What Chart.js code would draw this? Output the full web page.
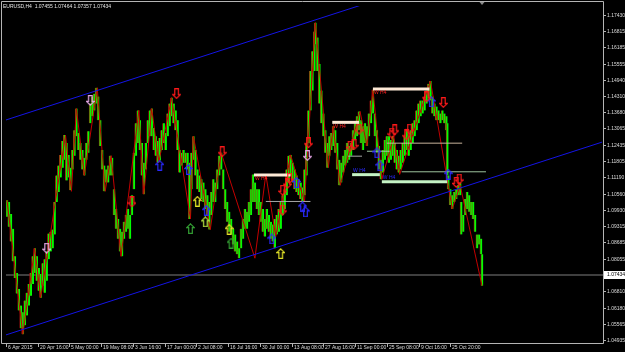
<!DOCTYPE html>
<html>
<head>
<meta charset="utf-8">
<script src="https://cdn.jsdelivr.net/npm/chart.js@4.4.0/dist/chart.umd.min.js"></script>
<style>
  html, body { margin: 0; padding: 0; background: #000; overflow: hidden; }
  canvas { display: block; }
</style>
</head>
<body>
<canvas id="chart" width="625" height="352"></canvas>
<script>
// ---- chart data (EURUSD H4) ----
const chartTitle = 'EURUSD,H4  1.07455 1.07464 1.07357 1.07434';
const lastPrice = 1.07434;

const priceTicks = [1.17430, 1.16815, 1.16185, 1.15555, 1.14940, 1.14310, 1.13680, 1.13065,
  1.12435, 1.11805, 1.11190, 1.10560, 1.09930, 1.09315, 1.08685, 1.08055, 1.06810,
  1.06180, 1.05565, 1.04935];

// bar numbers where the time labels sit
const timeTicks = [2, 66, 130, 194, 258, 322, 386, 450, 514, 578, 642, 706, 770, 834, 898];
const timeLabels = ['6 Apr 2015', '20 Apr 16:00', '5 May 00:00', '19 May 08:00', '3 Jun 16:00',
  '17 Jun 00:00', '2 Jul 08:00', '16 Jul 16:00', '30 Jul 00:00', '13 Aug 08:00',
  '27 Aug 16:00', '11 Sep 00:00', '25 Sep 08:00', '9 Oct 16:00', '25 Oct 20:00'];

const barNo = [4, 8, 12, 16, 20, 24, 28, 32, 36, 40, 44, 48, 52, 56, 60, 64, 68, 72, 76, 80,
  84, 88, 92, 96, 100, 104, 108, 112, 116, 120, 124, 128, 132, 136, 140, 144, 148, 152, 156, 160,
  164, 168, 172, 176, 180, 184, 188, 192, 196, 200, 204, 208, 212, 216, 220, 224, 228, 232, 236, 240,
  244, 248, 252, 256, 260, 264, 268, 272, 276, 280, 284, 288, 292, 296, 300, 304, 308, 312, 316, 320,
  324, 328, 332, 336, 340, 344, 348, 352, 356, 360, 364, 368, 372, 376, 380, 384, 388, 392, 396, 400,
  404, 408, 412, 416, 420, 424, 428, 432, 436, 440, 444, 448, 452, 456, 460, 464, 468, 472, 476, 480,
  484, 488, 492, 496, 500, 504, 508, 512, 516, 520, 524, 528, 532, 536, 540, 544, 548, 552, 556, 560,
  564, 568, 572, 576, 580, 584, 588, 592, 596, 600, 604, 608, 612, 616, 620, 624,
  626, 630, 634, 638, 642, 646, 650, 654, 658, 662, 666, 670, 674, 678, 682, 686, 690, 694, 698, 702,
  706, 710, 714, 718, 722, 726, 730, 734, 738, 742, 746, 750, 754, 758, 762, 766, 770, 774, 778, 782,
  786, 790, 794, 798, 802, 806, 810, 814, 818, 822, 826, 830, 834, 838, 842, 846, 850, 854, 858, 862,
  866, 870, 874, 878, 882, 886, 890, 892, 894, 898, 902, 906, 910, 914, 918,
  920, 924, 928, 932, 936, 940, 944, 948, 952, 956, 960, 962];

const barHigh = [1.1031, 1.1024, 1.0978, 1.0921, 1.0815, 1.0751, 1.0690, 1.0626, 1.0600, 1.0645,
  1.0675, 1.0709, 1.0751, 1.0815, 1.0846, 1.0815, 1.0770, 1.0747, 1.0789, 1.0804,
  1.0834, 1.0903, 1.0910, 1.0918, 1.1024, 1.1126, 1.1164, 1.1205, 1.1258, 1.1281,
  1.1251, 1.1205, 1.1156, 1.1224, 1.1300, 1.1383, 1.1289, 1.1251, 1.1224, 1.1194,
  1.1251, 1.1296, 1.1402, 1.1429, 1.1440, 1.1463, 1.1429, 1.1338, 1.1224, 1.1164,
  1.1149, 1.1164, 1.1202, 1.1194, 1.1073, 1.0997, 1.0959, 1.0921, 1.0910, 1.0948,
  1.0974, 1.0997, 1.0974, 1.1050, 1.1213, 1.1327, 1.1376, 1.1338, 1.1251, 1.1175,
  1.1251, 1.1338, 1.1376, 1.1383, 1.1308, 1.1277, 1.1258, 1.1270, 1.1300, 1.1327,
  1.1289, 1.1364, 1.1402, 1.1425, 1.1402, 1.1376, 1.1338, 1.1224, 1.1213, 1.1224,
  1.1213, 1.1213, 1.1175, 1.1213, 1.1277, 1.1224, 1.1149, 1.1126, 1.1111, 1.1099,
  1.1073, 1.1050, 1.1024, 1.1062, 1.1111, 1.1099, 1.1149, 1.1202, 1.1213, 1.1149,
  1.1073, 1.1024, 1.0986, 1.0959, 1.0921, 1.0899, 1.0872, 1.0846, 1.0921, 1.0959,
  1.0997, 1.0986, 1.1024, 1.1073, 1.1130, 1.1099, 1.1073, 1.1073, 1.1024, 1.0997,
  1.0959, 1.0997, 1.0974, 1.0948, 1.0937, 1.0959, 1.0974, 1.0997, 1.1024, 1.1050,
  1.1073, 1.1149, 1.1202, 1.1205, 1.1175, 1.1149, 1.1126, 1.1111, 1.1099, 1.1080,
  1.1149, 1.1251, 1.1376, 1.1527, 1.1603, 1.1679,
  1.1713, 1.1656, 1.1554, 1.1452, 1.1364, 1.1300, 1.1251, 1.1277, 1.1289, 1.1315,
  1.1300, 1.1251, 1.1186, 1.1175, 1.1202, 1.1224, 1.1251, 1.1239, 1.1251, 1.1300,
  1.1327, 1.1353, 1.1372, 1.1338, 1.1315, 1.1327, 1.1315, 1.1364, 1.1414, 1.1455,
  1.1364, 1.1300, 1.1239, 1.1186, 1.1224, 1.1262, 1.1277, 1.1277, 1.1262, 1.1277,
  1.1251, 1.1224, 1.1202, 1.1224, 1.1251, 1.1277, 1.1300, 1.1277, 1.1300, 1.1327,
  1.1338, 1.1376, 1.1402, 1.1414, 1.1414, 1.1429, 1.1452, 1.1478, 1.1489, 1.1429,
  1.1402, 1.1391, 1.1376, 1.1364, 1.1376, 1.1364, 1.1353, 1.1327, 1.1126, 1.1073,
  1.1050, 1.1062, 1.1073, 1.1088, 1.1099,
  1.1024, 1.0974, 1.1035, 1.1062, 1.1050, 1.1024, 1.1024, 1.0974, 1.0899, 1.0899, 1.0883, 1.0823];

const barLow = [1.0967, 1.0929, 1.0872, 1.0796, 1.0732, 1.0672, 1.0607, 1.0539, 1.0516, 1.0550,
  1.0588, 1.0626, 1.0664, 1.0709, 1.0751, 1.0721, 1.0683, 1.0656, 1.0702, 1.0675,
  1.0721, 1.0804, 1.0834, 1.0846, 1.0899, 1.1024, 1.1062, 1.1118, 1.1156, 1.1186,
  1.1107, 1.1118, 1.1069, 1.1149, 1.1202, 1.1277, 1.1224, 1.1186, 1.1149, 1.1126,
  1.1186, 1.1213, 1.1327, 1.1353, 1.1376, 1.1402, 1.1338, 1.1239, 1.1149, 1.1065,
  1.1099, 1.1099, 1.1126, 1.1126, 1.0974, 1.0921, 1.0883, 1.0834, 1.0815, 1.0883,
  1.0910, 1.0921, 1.0883, 1.0974, 1.1073, 1.1202, 1.1251, 1.1224, 1.1126, 1.1054,
  1.1149, 1.1251, 1.1277, 1.1277, 1.1224, 1.1202, 1.1175, 1.1183, 1.1224, 1.1251,
  1.1224, 1.1277, 1.1315, 1.1353, 1.1327, 1.1300, 1.1224, 1.1137, 1.1164, 1.1175,
  1.1175, 1.1149, 1.0959, 1.1073, 1.1186, 1.1126, 1.1073, 1.1062, 1.1035, 1.1024,
  1.0997, 1.0974, 1.0918, 1.0974, 1.1024, 1.1024, 1.1073, 1.1126, 1.1149, 1.1073,
  1.0997, 1.0948, 1.0910, 1.0899, 1.0861, 1.0834, 1.0823, 1.0808, 1.0846, 1.0883,
  1.0921, 1.0921, 1.0948, 1.0974, 1.1024, 1.1024, 1.0997, 1.0974, 1.0948, 1.0910,
  1.0891, 1.0921, 1.0910, 1.0883, 1.0872, 1.0846, 1.0899, 1.0910, 1.0921, 1.0974,
  1.0997, 1.1050, 1.1099, 1.1126, 1.1099, 1.1073, 1.1062, 1.1050, 1.1035, 1.1024,
  1.1050, 1.1126, 1.1251, 1.1376, 1.1452, 1.1527,
  1.1630, 1.1527, 1.1402, 1.1327, 1.1277, 1.1213, 1.1156, 1.1202, 1.1224, 1.1239,
  1.1213, 1.1149, 1.1088, 1.1099, 1.1137, 1.1164, 1.1175, 1.1186, 1.1202, 1.1224,
  1.1262, 1.1277, 1.1300, 1.1251, 1.1224, 1.1251, 1.1239, 1.1277, 1.1327, 1.1364,
  1.1277, 1.1213, 1.1149, 1.1111, 1.1137, 1.1186, 1.1202, 1.1175, 1.1186, 1.1202,
  1.1175, 1.1149, 1.1137, 1.1149, 1.1175, 1.1202, 1.1224, 1.1202, 1.1224, 1.1251,
  1.1277, 1.1300, 1.1327, 1.1353, 1.1364, 1.1376, 1.1402, 1.1429, 1.1414, 1.1364,
  1.1353, 1.1338, 1.1338, 1.1327, 1.1338, 1.1327, 1.1300, 1.1126, 1.1073, 1.1012,
  1.0997, 1.1024, 1.1035, 1.1050, 1.1050,
  1.0899, 1.0910, 1.0974, 1.0997, 1.0986, 1.0974, 1.0959, 1.0910, 1.0846, 1.0861, 1.0823, 1.0702];

// zigzag swing points
const zigBar = [4, 36, 60, 72, 122, 134, 144, 160, 186, 202, 214, 234, 270, 280, 296, 310, 336, 374,
  380, 414, 436, 504, 526, 546, 576, 604, 626, 652, 662, 676, 716, 730, 742, 760, 784, 796, 858, 902, 918, 962];
const zigPrice = [1.1031, 1.0516, 1.0846, 1.0656, 1.1281, 1.1065, 1.1383, 1.1126, 1.1463, 1.1065,
  1.1202, 1.0815, 1.1376, 1.1054, 1.1383, 1.1175, 1.1425, 1.0959, 1.1277, 1.0918, 1.1213, 1.0808,
  1.1130, 1.0891, 1.1205, 1.1024, 1.1713, 1.1156, 1.1315, 1.1088, 1.1372, 1.1239, 1.1455, 1.1111,
  1.1277, 1.1130, 1.1489, 1.0997, 1.1088, 1.0702];

// regression channel end points
const channelBar = [0, 1204];
const channelUpper = [1.1338, 1.2080];
const channelLower = [1.0512, 1.1254];

// support / resistance levels
const levelFrom = [502, 660, 742, 700, 760, 526, 692, 730, 770, 800];
const levelTo = [576, 714, 856, 756, 892, 616, 720, 776, 922, 970];
const levelPrice = [1.1128, 1.1330, 1.1458, 1.1129, 1.1102, 1.1026, 1.1200, 1.1219, 1.1250, 1.1140];
const levelType = ['res', 'res', 'res', 'sup', 'sup', 'minor', 'minor', 'minorG', 'minorT', 'minorG'];
const levelText = ['W H4', 'W H4', 'W H4', 'W H4', 'W H4', '', '', '', '', ''];

// signal arrows
const arrowBar = [172, 84, 256, 346, 438, 560, 570, 574, 560, 612, 610, 696, 704, 714, 780, 786, 810,
  816, 850, 884, 910, 916,
  312, 370, 388, 374, 406, 404, 452, 456, 538, 556, 588, 600, 606, 750, 756, 860, 894];
const arrowPrice = [1.1414, 1.0846, 1.1024, 1.1440, 1.1217, 1.1069, 1.1096, 1.1115, 1.0993, 1.1251,
  1.1202, 1.1238, 1.1244, 1.1304, 1.1289, 1.1301, 1.1282, 1.1304, 1.1428, 1.1406, 1.1099, 1.1112,
  1.1165, 1.1149, 1.1027, 1.0922, 1.0992, 1.0948, 1.0919, 1.0866, 1.0882, 1.0826, 1.1099, 1.1005,
  1.0986, 1.1213, 1.1163, 1.1409, 1.1131];
const arrowSignal = ['sellP', 'sellP', 'sell', 'sell', 'sell', 'sell', 'sell', 'sell', 'sell', 'sell',
  'sellP', 'sell', 'sell', 'sell', 'sell', 'sell', 'sell', 'sell', 'sell', 'sell', 'sell', 'sell',
  'buy', 'buy', 'buyY', 'buyG', 'buy', 'buyL', 'buyY', 'buyG', 'buy', 'buyY', 'buy', 'buy',
  'buy', 'buy', 'buy', 'buy', 'buy'];

// ---- styles ----
const arrowColors = { sell: '#ff1a1a', sellP: '#e6a6e6', buy: '#2a2aff', buyY: '#e6e628', buyL: '#b4e040', buyG: '#34a034' };
const levelStyles = {
  res: { color: '#fde9d6', width: 3 },
  sup: { color: '#c4f2c4', width: 3 },
  minor: { color: '#a8a8a8', width: 1 },
  minorG: { color: '#9cc49c', width: 1 },
  minorT: { color: '#c8b49c', width: 1 }
};
const AXIS_FONT = '5px "Liberation Sans", Arial, sans-serif';

function makeArrow(color, up) {
  const c = document.createElement('canvas');
  c.width = 9; c.height = 11;
  const g = c.getContext('2d');
  g.strokeStyle = color;
  g.lineWidth = 1.2;
  g.beginPath();
  const pts = [[4.5, 0.8], [8.3, 4.6], [6.3, 4.6], [6.3, 10.3], [2.7, 10.3], [2.7, 4.6], [0.7, 4.6]];
  pts.forEach((p, i) => {
    const y = up ? p[1] : 11 - p[1];
    if (i === 0) g.moveTo(p[0], y); else g.lineTo(p[0], y);
  });
  g.closePath();
  g.stroke();
  return c;
}

const datasets = [];

// price bars: lime body with a dark red edge, like the mixed up/down H4 bars
datasets.push({
  type: 'bar',
  data: barNo.map((b, i) => ({ x: b, y: [barLow[i], barHigh[i]] })),
  backgroundColor: '#00ff00',
  borderColor: '#b01010',
  borderWidth: { left: 0.8, right: 0, top: 0, bottom: 0 },
  borderSkipped: false,
  barThickness: 2.4,
  order: 20
});

// last price line
datasets.push({
  type: 'line',
  data: [{ x: 2, y: lastPrice }, { x: 1206, y: lastPrice }],
  borderColor: '#555555',
  borderWidth: 1.5,
  pointRadius: 0,
  order: 30
});

// zigzag
datasets.push({
  type: 'line',
  data: zigBar.map((b, i) => ({ x: b, y: zigPrice[i] })),
  borderColor: '#c40000',
  borderWidth: 1,
  pointRadius: 0,
  order: 15
});

// channel
[channelUpper, channelLower].forEach(arr => {
  datasets.push({
    type: 'line',
    data: channelBar.map((b, i) => ({ x: b, y: arr[i] })),
    borderColor: '#1414e6',
    borderWidth: 1,
    pointRadius: 0,
    order: 10
  });
});

// levels
levelPrice.forEach((p, i) => {
  const st = levelStyles[levelType[i]];
  datasets.push({
    type: 'line',
    data: [{ x: levelFrom[i], y: p }, { x: levelTo[i], y: p }],
    borderColor: st.color,
    borderWidth: st.width,
    borderCapStyle: 'butt',
    pointRadius: 0,
    order: 8
  });
});

// arrows, one dataset per signal kind
Object.keys(arrowColors).forEach(kind => {
  const up = kind.indexOf('buy') === 0;
  const img = makeArrow(arrowColors[kind], up);
  const pts = [];
  arrowSignal.forEach((s, i) => { if (s === kind) pts.push({ x: arrowBar[i], y: arrowPrice[i] }); });
  datasets.push({
    type: 'line',
    data: pts,
    showLine: false,
    pointStyle: img,
    pointRadius: 5,
    order: 2
  });
});

const mt4Frame = {
  id: 'mt4Frame',
  beforeDraw(chart) {
    const ctx = chart.ctx;
    ctx.save();
    ctx.fillStyle = '#000';
    ctx.fillRect(0, 0, chart.width, chart.height);
    ctx.restore();
  },
  afterDraw(chart) {
    const ctx = chart.ctx;
    const a = chart.chartArea;
    const xs = chart.scales.x, ys = chart.scales.y;
    ctx.save();
    // frame
    ctx.strokeStyle = '#b4b4b4';
    ctx.lineWidth = 1;
    ctx.beginPath();
    ctx.moveTo(1.5, a.bottom + 0.5); ctx.lineTo(1.5, 1.5); ctx.lineTo(a.right + 0.5, 1.5);
    ctx.lineTo(a.right + 0.5, a.bottom + 0.5); ctx.lineTo(1.5, a.bottom + 0.5);
    ctx.stroke();

    ctx.font = AXIS_FONT;
    ctx.fillStyle = '#dcdcdc';
    ctx.textBaseline = 'middle';
    ctx.textAlign = 'left';
    // price axis
    priceTicks.forEach(v => {
      const y = Math.round(ys.getPixelForValue(v)) + 0.5;
      ctx.beginPath(); ctx.moveTo(a.right, y); ctx.lineTo(a.right + 3, y); ctx.stroke();
      ctx.fillText(v.toFixed(5), a.right + 4, y);
    });
    // last price box
    const ly = ys.getPixelForValue(lastPrice);
    ctx.fillStyle = '#ffffff';
    ctx.fillRect(a.right + 1, ly - 4, 21, 8);
    ctx.fillStyle = '#000000';
    ctx.fillText(lastPrice.toFixed(5), a.right + 4, ly);

    // time axis
    ctx.fillStyle = '#dcdcdc';
    timeTicks.forEach((b, i) => {
      const x = Math.round(xs.getPixelForValue(b)) + 0.5;
      ctx.beginPath(); ctx.moveTo(x, a.bottom); ctx.lineTo(x, a.bottom + 4); ctx.stroke();
      ctx.fillText(timeLabels[i], x + 1.5, a.bottom + 5);
    });

    // title
    ctx.fillStyle = '#e6e6e6';
    ctx.fillText(chartTitle, 3, 6.5);

    // level captions
    levelText.forEach((t, i) => {
      if (!t) return;
      const x = xs.getPixelForValue(levelFrom[i]) + 1;
      const y = ys.getPixelForValue(levelPrice[i]);
      if (levelType[i] === 'res') {
        ctx.fillStyle = '#ff2020';
        ctx.fillText(t, x, y + 4);
      } else {
        ctx.fillStyle = '#2a2aff';
        ctx.fillText(t, x, y - 4);
      }
    });

    // chart shift marker
    const sx = xs.getPixelForValue(barNo[barNo.length - 1]);
    ctx.fillStyle = '#8a8a8a';
    ctx.beginPath(); ctx.moveTo(sx - 2.5, 2); ctx.lineTo(sx + 2.5, 2); ctx.lineTo(sx, 5); ctx.closePath(); ctx.fill();
    ctx.restore();
  }
};

new Chart(document.getElementById('chart'), {
  type: 'bar',
  data: { datasets: datasets },
  options: {
    responsive: false,
    animation: false,
    events: [],
    layout: { padding: { left: 1, top: 1, right: 22, bottom: 9 } },
    plugins: { legend: { display: false }, tooltip: { enabled: false } },
    scales: {
      x: { type: 'linear', min: 2, max: 1206, offset: false, display: false },
      y: { type: 'linear', min: 1.04821, max: 1.17771, display: false }
    }
  },
  plugins: [mt4Frame]
});
</script>
</body>
</html>
